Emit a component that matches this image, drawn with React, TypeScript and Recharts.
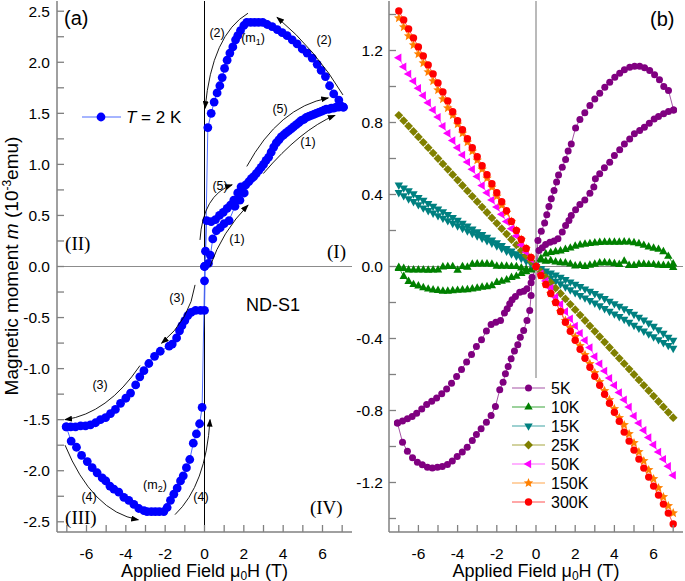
import { LineChart, Line, XAxis, YAxis, ReferenceLine } from 'recharts'

const SANS = '"Liberation Sans", Arial, Helvetica, sans-serif'
const SERIF = '"Liberation Serif", "Times New Roman", serif'
const AXIS_GREY = '#808080'

// layout of the two plot boxes (px)
const PLOT_TOP = 1
const PLOT_BOTTOM = 532
const A_LEFT = 57
const A_RIGHT = 352

const FIELD_DOMAIN: [number, number] = [-7.5, 7.5]
const A_DOMAIN: [number, number] = [-2.6, 2.6]
const B_DOMAIN: [number, number] = [-1.475, 1.475]

const fieldTicks = [-7, -6, -5, -4, -3, -2, -1, 0, 1, 2, 3, 4, 5, 6, 7]
const aMomentTicks = [-2.5, -2.25, -2, -1.75, -1.5, -1.25, -1, -0.75, -0.5, -0.25, 0, 0.25, 0.5, 0.75, 1, 1.25, 1.5, 1.75, 2, 2.25, 2.5]
const bMomentTicks = [-1.4, -1.2, -1, -0.8, -0.6, -0.4, -0.2, 0, 0.2, 0.4, 0.6, 0.8, 1, 1.2, 1.4]

// ---- panel (a): T = 2 K, [field (T), moment (1e-3 emu)] in measuring order
const virginSweep = [
  [0, 0], [0.2, 0.03], [0.3, 0.11], [0.42, 0.27], [0.6, 0.35], [0.8, 0.38], [1.0, 0.42], [1.25, 0.45],
  [1.55, 0.59], [1.8, 0.65], [2.02, 0.72], [2.25, 0.83], [2.5, 0.88], [2.76, 0.94], [3.0, 1.0], [3.26, 1.07],
  [3.52, 1.17], [3.78, 1.24], [4.03, 1.29], [4.29, 1.33], [4.54, 1.37], [4.8, 1.41], [5.05, 1.44], [5.3, 1.47],
  [5.56, 1.49], [5.81, 1.51], [6.07, 1.53], [6.32, 1.54], [6.57, 1.55], [6.83, 1.56], [7.06, 1.56],
]
const descendingSweep = [
  [7.06, 1.56], [6.83, 1.63], [6.57, 1.69], [6.36, 1.77], [6.15, 1.86], [5.93, 1.92], [5.73, 1.98], [5.48, 2.04],
  [5.22, 2.09], [4.97, 2.13], [4.71, 2.18], [4.46, 2.22], [4.2, 2.26], [3.95, 2.29], [3.7, 2.32], [3.44, 2.35],
  [3.19, 2.37], [2.96, 2.39], [2.75, 2.39], [2.55, 2.39], [2.35, 2.39], [2.15, 2.39], [2.0, 2.36], [1.83, 2.31],
  [1.69, 2.26], [1.58, 2.22], [1.44, 2.15], [1.29, 2.09], [1.15, 2.02], [1.02, 1.94], [0.9, 1.85], [0.78, 1.77],
  [0.64, 1.7], [0.49, 1.61], [0.34, 1.5], [0.17, 1.36],
]
const negativeSweep = [
  [0, -0.43], [-0.2, -0.43], [-0.45, -0.43], [-0.68, -0.45], [-0.85, -0.48], [-1.0, -0.53], [-1.15, -0.58],
  [-1.27, -0.63], [-1.42, -0.7], [-1.64, -0.76], [-1.8, -0.78], [-2.25, -0.83], [-2.54, -0.88], [-2.83, -0.95],
  [-3.08, -1.02], [-3.29, -1.08], [-3.5, -1.16], [-3.76, -1.24], [-4.0, -1.29], [-4.27, -1.34], [-4.53, -1.4],
  [-4.78, -1.44], [-5.03, -1.48], [-5.29, -1.5], [-5.54, -1.53], [-5.8, -1.55], [-6.05, -1.56], [-6.3, -1.56],
  [-6.56, -1.57], [-6.8, -1.57], [-7.03, -1.57],
]
const returnSweep = [
  [-7.03, -1.57], [-6.78, -1.71], [-6.51, -1.77], [-6.25, -1.85], [-5.96, -1.91], [-5.71, -1.97], [-5.46, -2.02],
  [-5.2, -2.07], [-5.02, -2.1], [-4.81, -2.15], [-4.61, -2.18], [-4.36, -2.21], [-4.1, -2.26], [-3.85, -2.29],
  [-3.59, -2.33], [-3.34, -2.37], [-3.08, -2.39], [-2.92, -2.4], [-2.7, -2.4], [-2.5, -2.4], [-2.3, -2.4],
  [-2.07, -2.4], [-1.9, -2.36], [-1.73, -2.29], [-1.56, -2.23], [-1.39, -2.17], [-1.22, -2.1], [-1.08, -2.05],
  [-0.92, -1.97], [-0.75, -1.89], [-0.57, -1.73], [-0.41, -1.64], [-0.25, -1.54], [-0.12, -1.38],
]
const secondSweep = [
  [0, -0.14], [0, 0], [0.05, 0.15], [0.11, 0.45], [0.34, 0.44], [0.56, 0.46], [0.76, 0.5], [0.95, 0.53],
  [1.15, 0.57], [1.32, 0.6], [1.49, 0.65], [1.69, 0.72], [1.86, 0.78], [2.1, 0.8], [2.38, 0.86], [2.63, 0.91],
  [2.88, 0.97], [3.13, 1.04], [3.39, 1.12], [3.65, 1.21], [3.9, 1.27], [4.16, 1.31], [4.42, 1.35], [4.67, 1.39],
  [4.93, 1.43], [5.18, 1.46], [5.43, 1.48], [5.68, 1.5], [5.94, 1.52], [6.19, 1.54], [6.45, 1.55], [6.7, 1.56],
  [6.95, 1.57],
]

// ---- panel (b): moment (1e-3 emu) vs field for several temperatures
const fieldGrid = [
  -7, -6.75, -6.5, -6.25, -6, -5.75, -5.5, -5.25, -5, -4.75, -4.5, -4.25, -4, -3.75, -3.5, -3.25, -3, -2.75, -2.5,
  -2.25, -2, -1.75, -1.5, -1.25, -1, -0.75, -0.5, -0.25, 0, 0.25, 0.5, 0.75, 1, 1.25, 1.5, 1.75, 2, 2.25, 2.5,
  2.75, 3, 3.25, 3.5, 3.75, 4, 4.25, 4.5, 4.75, 5, 5.25, 5.5, 5.75, 6, 6.25, 6.5, 6.75, 7,
]

const fiveKUpperRight = [
  [0, 0], [0.1, 0.144], [0.27, 0.196], [0.44, 0.241], [0.55, 0.287], [0.66, 0.333], [0.78, 0.376], [0.92, 0.422],
  [1.05, 0.469], [1.15, 0.508], [1.34, 0.552], [1.51, 0.594], [1.64, 0.641], [1.8, 0.681], [2.02, 0.77],
  [2.24, 0.817], [2.49, 0.854], [2.75, 0.894], [3.0, 0.931], [3.25, 0.963], [3.51, 0.996], [3.76, 1.024],
  [4.02, 1.052], [4.27, 1.074], [4.51, 1.093], [4.78, 1.107], [5.03, 1.113], [5.29, 1.113], [5.54, 1.104],
  [5.8, 1.089], [6.05, 1.065], [6.3, 1.037], [6.52, 1.0], [6.76, 0.978], [7.02, 0.87],
]
const fiveKLowerRight = [
  [0, 0], [0.15, 0.089], [0.32, 0.104], [0.49, 0.122], [0.71, 0.135], [0.92, 0.141], [1.12, 0.154], [1.34, 0.191],
  [1.51, 0.228], [1.68, 0.256], [1.8, 0.283], [2.02, 0.315], [2.24, 0.344], [2.49, 0.37], [2.75, 0.407],
  [2.95, 0.441], [3.03, 0.487], [3.25, 0.515], [3.49, 0.548], [3.76, 0.579], [4.0, 0.617], [4.27, 0.648],
  [4.51, 0.681], [4.78, 0.709], [5.02, 0.737], [5.29, 0.756], [5.53, 0.774], [5.78, 0.796], [6.03, 0.82],
  [6.25, 0.833], [6.51, 0.848], [6.76, 0.861], [7.02, 0.87],
]
const fiveKLowerLeft = [
  [-7.07, -0.869], [-6.81, -0.976], [-6.56, -1.026], [-6.3, -1.063], [-6.05, -1.087], [-5.8, -1.102],
  [-5.54, -1.115], [-5.29, -1.119], [-5.03, -1.115], [-4.78, -1.111], [-4.52, -1.1], [-4.27, -1.081],
  [-4.02, -1.056], [-3.76, -1.031], [-3.51, -1.004], [-3.25, -0.967], [-3.04, -0.933], [-2.8, -0.902],
  [-2.53, -0.865], [-2.29, -0.828], [-2.07, -0.778], [-1.85, -0.685], [-1.68, -0.643], [-1.56, -0.596],
  [-1.42, -0.556], [-1.27, -0.513], [-1.1, -0.47], [-0.93, -0.435], [-0.8, -0.393], [-0.63, -0.356],
  [-0.46, -0.3], [-0.32, -0.244], [-0.25, -0.161], [-0.2, -0.06], [0, 0],
]
const fiveKUpperLeft = [
  [-7.07, -0.869], [-6.81, -0.859], [-6.56, -0.846], [-6.32, -0.833], [-6.09, -0.815], [-5.83, -0.791],
  [-5.58, -0.767], [-5.32, -0.748], [-5.07, -0.73], [-4.81, -0.707], [-4.56, -0.68], [-4.31, -0.648],
  [-4.05, -0.611], [-3.8, -0.572], [-3.54, -0.531], [-3.29, -0.489], [-3.04, -0.444], [-2.78, -0.407],
  [-2.53, -0.359], [-2.29, -0.322], [-2.05, -0.31], [-1.81, -0.3], [-1.61, -0.259], [-1.47, -0.235],
  [-1.34, -0.207], [-1.22, -0.185], [-1.05, -0.167], [-0.83, -0.143], [-0.63, -0.137], [-0.46, -0.124],
  [-0.25, -0.09], [0, 0],
]

const m10KFlat = [
  -0.01, -0.01, -0.019, -0.019, -0.019, -0.019, -0.02, -0.019, -0.019, -0.002, 0, 0, -0.02, 0, -0.003, 0.013,
  0.015, 0.015, 0.015, 0.013, 0.002, 0.002, 0.002, 0, 0, -0.008, -0.015, -0.019, 0,
  0.037, 0.03, 0.033, 0.026, 0.022, 0.02, 0.014, 0.004, 0.006, 0.001, 0.008, 0.013, 0.02, 0.022, 0.02, 0.016,
  0.012, 0.03, 0.006, 0.006, 0.013, 0.013, 0.011, 0.011, 0.008, 0.006, 0.006, -0.005,
]
const m10KHump = [
  -0.005, -0.055, -0.083, -0.1, -0.108, -0.117, -0.125, -0.13, -0.133, -0.137, -0.137, -0.134, -0.132, -0.13,
  -0.128, -0.124, -0.12, -0.115, -0.112, -0.106, -0.088, -0.082, -0.074, -0.06, -0.054, -0.038, -0.028, -0.015, 0,
  0.045, 0.07, 0.078, 0.083, 0.087, 0.095, 0.103, 0.113, 0.12, 0.124, 0.128, 0.131, 0.134, 0.135, 0.135, 0.135,
  0.135, 0.137, 0.136, 0.133, 0.127, 0.118, 0.109, 0.102, 0.096, 0.083, 0.057, 0.015,
]
const m15KOuter = [
  0.452, 0.436, 0.42, 0.403, 0.383, 0.367, 0.35, 0.334, 0.319, 0.304, 0.288, 0.272, 0.256, 0.24, 0.224, 0.208,
  0.192, 0.177, 0.162, 0.147, 0.132, 0.116, 0.1, 0.085, 0.07, 0.055, 0.04, 0.022, 0,
  -0.02, -0.045, -0.065, -0.082, -0.097, -0.113, -0.13, -0.146, -0.161, -0.175, -0.19, -0.204, -0.219, -0.234,
  -0.249, -0.264, -0.279, -0.294, -0.31, -0.327, -0.343, -0.359, -0.375, -0.391, -0.407, -0.423, -0.439, -0.455,
]
const m15KInner = [
  0.41, 0.393, 0.376, 0.36, 0.343, 0.325, 0.31, 0.296, 0.282, 0.268, 0.254, 0.24, 0.226, 0.212, 0.198, 0.184,
  0.17, 0.157, 0.143, 0.13, 0.115, 0.1, 0.085, 0.07, 0.058, 0.045, 0.03, 0.015, 0,
  -0.012, -0.025, -0.037, -0.048, -0.06, -0.073, -0.086, -0.099, -0.112, -0.125, -0.138, -0.151, -0.165, -0.179,
  -0.193, -0.207, -0.221, -0.235, -0.25, -0.266, -0.282, -0.298, -0.315, -0.333, -0.352, -0.372, -0.393, -0.41,
]
const m25K = [
  0.84, 0.81, 0.78, 0.75, 0.72, 0.69, 0.66, 0.63, 0.6, 0.57, 0.54, 0.51, 0.48, 0.45, 0.42, 0.39, 0.36, 0.33, 0.3,
  0.27, 0.24, 0.21, 0.18, 0.15, 0.12, 0.09, 0.06, 0.03, 0,
  -0.03, -0.06, -0.09, -0.12, -0.15, -0.18, -0.21, -0.24, -0.27, -0.3, -0.33, -0.36, -0.39, -0.42, -0.45, -0.48,
  -0.51, -0.54, -0.57, -0.6, -0.63, -0.66, -0.69, -0.72, -0.75, -0.78, -0.81, -0.84,
]
const m50K = [
  1.16, 1.11, 1.07, 1.03, 0.99, 0.95, 0.91, 0.87, 0.83, 0.78, 0.74, 0.7, 0.66, 0.62, 0.58, 0.54, 0.5, 0.45, 0.41,
  0.37, 0.33, 0.29, 0.25, 0.21, 0.17, 0.12, 0.08, 0.04, 0,
  -0.04, -0.08, -0.12, -0.17, -0.21, -0.25, -0.29, -0.33, -0.37, -0.41, -0.45, -0.5, -0.54, -0.58, -0.62, -0.66,
  -0.7, -0.74, -0.78, -0.83, -0.87, -0.91, -0.95, -0.99, -1.03, -1.07, -1.11, -1.16,
]
const m150K = [
  1.38, 1.33, 1.28, 1.23, 1.18, 1.13, 1.08, 1.03, 0.98, 0.93, 0.88, 0.84, 0.79, 0.74, 0.69, 0.64, 0.59, 0.54, 0.49,
  0.44, 0.39, 0.34, 0.3, 0.25, 0.2, 0.15, 0.1, 0.05, 0,
  -0.05, -0.1, -0.15, -0.2, -0.25, -0.3, -0.34, -0.39, -0.44, -0.49, -0.54, -0.59, -0.64, -0.69, -0.74, -0.79,
  -0.84, -0.88, -0.93, -0.98, -1.03, -1.08, -1.13, -1.18, -1.23, -1.28, -1.33, -1.37,
]
const m300K = [
  1.42, 1.37, 1.32, 1.27, 1.22, 1.17, 1.12, 1.07, 1.02, 0.97, 0.92, 0.86, 0.81, 0.76, 0.71, 0.66, 0.61, 0.56, 0.51,
  0.46, 0.41, 0.36, 0.31, 0.25, 0.2, 0.15, 0.1, 0.05, 0,
  -0.05, -0.1, -0.15, -0.2, -0.25, -0.31, -0.36, -0.41, -0.46, -0.51, -0.56, -0.61, -0.66, -0.71, -0.76, -0.81,
  -0.86, -0.92, -0.97, -1.02, -1.07, -1.12, -1.17, -1.22, -1.27, -1.32, -1.37, -1.43,
]

type P = { h: number; m: number }
const pairs = (rows: number[][]): P[] => rows.map(([h, m]) => ({ h, m }))
const onGrid = (ms: number[]): P[] => fieldGrid.map((h, i) => ({ h, m: ms[i] }))

const loopA = pairs([...virginSweep, ...descendingSweep, ...negativeSweep, ...returnSweep, ...secondSweep])

type Kind = 'circle' | 'up' | 'down' | 'left' | 'diamond' | 'star'
const seriesB: { name: string; kind: Kind; fill: string; line: string; size: number; branches: P[][] }[] = [
  { name: '5K', kind: 'circle', fill: '#800080', line: '#a555a5', size: 3.5,
    branches: [fiveKUpperRight, fiveKLowerRight, fiveKLowerLeft, fiveKUpperLeft].map(pairs) },
  { name: '10K', kind: 'up', fill: '#008000', line: '#3aa53a', size: 4.2, branches: [onGrid(m10KFlat), onGrid(m10KHump)] },
  { name: '15K', kind: 'down', fill: '#008080', line: '#3fa3a3', size: 4.2, branches: [onGrid(m15KOuter), onGrid(m15KInner)] },
  { name: '25K', kind: 'diamond', fill: '#808000', line: '#a5a540', size: 4.4, branches: [onGrid(m25K)] },
  { name: '50K', kind: 'left', fill: '#ff00ff', line: '#ff66ff', size: 4.2, branches: [onGrid(m50K)] },
  { name: '150K', kind: 'star', fill: '#ff8000', line: '#ffa64d', size: 5, branches: [onGrid(m150K)] },
  { name: '300K', kind: 'circle', fill: '#ff0000', line: '#ff5050', size: 3.7, branches: [onGrid(m300K)] },
]

// annotations of panel (a), in data units
const arrowsA = [
  { s: [2.21, 2.48], c: [0.38, 2.27], e: [0.03, 1.55] },
  { s: [7.04, 1.68], c: [5.67, 2.12], e: [3.69, 2.44] },
  { s: [2.15, 0.98], c: [3.79, 1.56], e: [6.29, 1.65] },
  { s: [2.99, 0.91], c: [4.9, 1.34], e: [6.63, 1.48] },
  { s: [-0.23, 0.26], c: [-0.08, 0.7], e: [1.4, 0.8] },
  { s: [0.28, 0.0], c: [0.89, 0.34], e: [2.21, 0.6] },
  { s: [-0.48, -0.18], c: [-0.74, -0.52], e: [-2.18, -0.75] },
  { s: [-3.28, -0.97], c: [-4.93, -1.44], e: [-7.09, -1.5] },
  { s: [-7.09, -1.75], c: [-5.7, -2.4], e: [-3.37, -2.48] },
  { s: [-1.5, -2.43], c: [0.08, -2.14], e: [0.28, -1.5] },
]
const stepLabels = [
  { t: '(2)', h: 0.64, m: 2.25 }, { t: '(2)', h: 6.08, m: 2.18 }, { t: '(5)', h: 3.84, m: 1.5 },
  { t: '(1)', h: 5.26, m: 1.18 }, { t: '(5)', h: 0.79, m: 0.75 }, { t: '(1)', h: 1.65, m: 0.23 },
  { t: '(3)', h: -1.4, m: -0.35 }, { t: '(3)', h: -5.31, m: -1.2 }, { t: '(4)', h: -5.87, m: -2.3 },
  { t: '(4)', h: -0.18, m: -2.3 },
]
const quadrantLabels = [
  { t: '(I)', h: 6.23, m: 0.08 }, { t: '(II)', h: -7.09, m: 0.16 },
  { t: '(III)', h: -7.09, m: -2.52 }, { t: '(IV)', h: 5.36, m: -2.42 },
]

const ax = (h: number) => A_LEFT + ((h - FIELD_DOMAIN[0]) / (FIELD_DOMAIN[1] - FIELD_DOMAIN[0])) * (A_RIGHT - A_LEFT)
const ay = (m: number) => PLOT_TOP + ((A_DOMAIN[1] - m) / (A_DOMAIN[1] - A_DOMAIN[0])) * (PLOT_BOTTOM - PLOT_TOP)

function starPoints(cx: number, cy: number, R: number) {
  const pts: string[] = []
  for (let i = 0; i < 10; i++) {
    const r = i % 2 === 0 ? R : R * 0.45
    const a = -Math.PI / 2 + (i * Math.PI) / 5
    pts.push(`${cx + r * Math.cos(a)},${cy + r * Math.sin(a)}`)
  }
  return pts.join(' ')
}

function Marker({ kind, cx, cy, fill, s }: { kind: Kind; cx: number; cy: number; fill: string; s: number }) {
  if (cx == null || cy == null) return null
  switch (kind) {
    case 'up':
      return <polygon points={`${cx},${cy - s * 1.15} ${cx + s},${cy + s * 0.62} ${cx - s},${cy + s * 0.62}`} fill={fill} />
    case 'down':
      return <polygon points={`${cx},${cy + s * 1.15} ${cx + s},${cy - s * 0.62} ${cx - s},${cy - s * 0.62}`} fill={fill} />
    case 'left':
      return <polygon points={`${cx - s * 1.15},${cy} ${cx + s * 0.62},${cy - s} ${cx + s * 0.62},${cy + s}`} fill={fill} />
    case 'diamond':
      return <polygon points={`${cx},${cy - s} ${cx + s},${cy} ${cx},${cy + s} ${cx - s},${cy}`} fill={fill} />
    case 'star':
      return <polygon points={starPoints(cx, cy, s)} fill={fill} />
    default:
      return <circle cx={cx} cy={cy} r={s} fill={fill} />
  }
}

const TICK_LEN = 7
const tickFont = { fontFamily: SANS, fontSize: 15.5, fill: '#000' }
const frame = { stroke: AXIS_GREY, strokeWidth: 1.5 }

const bottomTick = (p: any) => {
  const v = p.payload.value
  return (
    <g>
      <line x1={p.x} y1={p.y} x2={p.x} y2={p.y - TICK_LEN} stroke={AXIS_GREY} strokeWidth={1.3} />
      {v % 2 === 0 && <text x={p.x} y={p.y + 27} textAnchor="middle" {...tickFont}>{v}</text>}
    </g>
  )
}
const topTick = (p: any) => (
  <line x1={p.x} y1={p.y} x2={p.x} y2={p.y + TICK_LEN} stroke={AXIS_GREY} strokeWidth={1.3} />
)
const rightTick = (p: any) => (
  <line x1={p.x} y1={p.y} x2={p.x - TICK_LEN} y2={p.y} stroke={AXIS_GREY} strokeWidth={1.3} />
)
const leftTick = (isMajor: (v: number) => boolean, gap: number) => (p: any) => {
  const v = p.payload.value
  return (
    <g>
      <line x1={p.x} y1={p.y} x2={p.x + TICK_LEN} y2={p.y} stroke={AXIS_GREY} strokeWidth={1.3} />
      {isMajor(v) && <text x={p.x - gap} y={p.y + 5.5} textAnchor="end" {...tickFont}>{v.toFixed(1)}</text>}
    </g>
  )
}
const leftTickA = leftTick((v) => Math.abs(Math.round(v * 100)) % 50 === 0, 7)
const leftTickB = leftTick((v) => Math.abs(Math.round(v * 10)) % 4 === 0, 6)

const axisCommon = { type: 'number' as const, tickSize: 0, tickMargin: 0, tickLine: false, interval: 0 as const, allowDataOverflow: true }

function FieldTitle({ x }: { x: number }) {
  return (
    <text x={x} y={577} textAnchor="middle" fontSize={18}>
      Applied Field μ<tspan fontSize={12} dy={2.5}>0</tspan><tspan dy={-2.5}>H (T)</tspan>
    </text>
  )
}

export default function App() {
  return (
    <div style={{ position: 'absolute', left: 0, top: 0, width: 685, height: 581, background: '#fff' }}>
      <div style={{ position: 'absolute', left: 0, top: 0 }}>
        <LineChart width={360} height={581} margin={{ top: PLOT_TOP, right: 8, bottom: 19, left: 0 }}>
          <XAxis xAxisId="x" dataKey="h" {...axisCommon} domain={FIELD_DOMAIN} ticks={fieldTicks} tick={bottomTick} axisLine={frame} height={30} />
          <XAxis xAxisId="xt" orientation="top" {...axisCommon} domain={FIELD_DOMAIN} ticks={fieldTicks} tick={topTick} axisLine={frame} height={0} />
          <YAxis yAxisId="y" dataKey="m" {...axisCommon} domain={A_DOMAIN} ticks={aMomentTicks} tick={leftTickA} axisLine={frame} width={57} />
          <YAxis yAxisId="yr" orientation="right" {...axisCommon} domain={A_DOMAIN} ticks={aMomentTicks} tick={rightTick} axisLine={frame} width={0} />
          <ReferenceLine xAxisId="x" yAxisId="y" y={0} stroke="#8c8c8c" strokeWidth={1.2} />
          <ReferenceLine xAxisId="x" yAxisId="y" x={0} stroke="#000" strokeWidth={1} />
          <Line
            xAxisId="x"
            yAxisId="y"
            data={loopA}
            dataKey="m"
            stroke="#4d6bff"
            strokeWidth={1}
            dot={(p: any) => <Marker key={`a${p.index}`} kind="circle" cx={p.cx} cy={p.cy} fill="#0000ff" s={4.4} />}
            activeDot={false}
            isAnimationActive={false}
          />
        </LineChart>
      </div>
      <div style={{ position: 'absolute', left: 340, top: 0 }}>
        <LineChart width={345} height={581} margin={{ top: PLOT_TOP, right: 2, bottom: 19, left: 0 }}>
          <XAxis xAxisId="x" dataKey="h" {...axisCommon} domain={FIELD_DOMAIN} ticks={fieldTicks} tick={bottomTick} axisLine={frame} height={30} />
          <XAxis xAxisId="xt" orientation="top" {...axisCommon} domain={FIELD_DOMAIN} ticks={fieldTicks} tick={topTick} axisLine={frame} height={0} />
          <YAxis yAxisId="y" dataKey="m" {...axisCommon} domain={B_DOMAIN} ticks={bMomentTicks} tick={leftTickB} axisLine={frame} width={49} />
          <YAxis yAxisId="yr" orientation="right" {...axisCommon} domain={B_DOMAIN} ticks={bMomentTicks} tick={rightTick} axisLine={frame} width={0} />
          <ReferenceLine xAxisId="x" yAxisId="y" y={0} stroke="#8c8c8c" strokeWidth={1.2} />
          <ReferenceLine xAxisId="x" yAxisId="y" segment={[{ x: 0, y: 1.475 }, { x: 0, y: -0.62 }]} stroke="#8c8c8c" strokeWidth={1.2} />
          {seriesB.flatMap((s) =>
            s.branches.map((b, bi) => (
              <Line
                key={`${s.name}-${bi}`}
                xAxisId="x"
                yAxisId="y"
                data={b}
                dataKey="m"
                stroke={s.line}
                strokeWidth={1}
                dot={(p: any) => <Marker key={`${s.name}${bi}-${p.index}`} kind={s.kind} cx={p.cx} cy={p.cy} fill={s.fill} s={s.size} />}
                activeDot={false}
                isAnimationActive={false}
              />
            ))
          )}
        </LineChart>
      </div>
      <svg width={685} height={581} style={{ position: 'absolute', left: 0, top: 0, pointerEvents: 'none' }}>
        <defs>
          <marker id="arrowHead" markerWidth={8} markerHeight={6} refX={7} refY={3} orient="auto" markerUnits="userSpaceOnUse">
            <path d="M0,0 L8,3 L0,6 z" fill="#000" />
          </marker>
        </defs>
        {arrowsA.map((a, i) => (
          <path
            key={i}
            d={`M${ax(a.s[0])},${ay(a.s[1])} Q${ax(a.c[0])},${ay(a.c[1])} ${ax(a.e[0])},${ay(a.e[1])}`}
            fill="none"
            stroke="#000"
            strokeWidth={0.9}
            markerEnd="url(#arrowHead)"
          />
        ))}
        <g fontFamily={SANS} fontSize={12.5} fill="#000">
          {stepLabels.map((l, i) => (
            <text key={i} x={ax(l.h)} y={ay(l.m)} textAnchor="middle">{l.t}</text>
          ))}
          <text x={ax(2.47)} y={ay(2.2)} textAnchor="middle">(m<tspan fontSize={9} dy={3}>1</tspan><tspan dy={-3}>)</tspan></text>
          <text x={ax(-2.52)} y={ay(-2.18)} textAnchor="middle">(m<tspan fontSize={9} dy={3}>2</tspan><tspan dy={-3}>)</tspan></text>
        </g>
        <g fontFamily={SERIF} fontSize={19} fill="#000">
          {quadrantLabels.map((l, i) => (
            <text key={i} x={ax(l.h)} y={ay(l.m)}>{l.t}</text>
          ))}
        </g>
        <g fontFamily={SANS} fill="#000">
          <text x={64} y={25} fontSize={20}>(a)</text>
          <text x={650} y={26} fontSize={20}>(b)</text>
          <text x={246} y={311} fontSize={18}>ND-S1</text>
          <line x1={82} y1={117} x2={121} y2={117} stroke="#4d6bff" strokeWidth={1} />
          <circle cx={101} cy={117} r={4.4} fill="#0000ff" />
          <text x={126} y={123} fontSize={17}><tspan fontStyle="italic">T</tspan> = 2 K</text>
          {seriesB.map((s, i) => {
            const y = 388 + i * 19
            return (
              <g key={s.name}>
                <line x1={512} y1={y} x2={545} y2={y} stroke={s.line} strokeWidth={1.2} />
                <Marker kind={s.kind} cx={528.5} cy={y} fill={s.fill} s={s.size} />
                <text x={551} y={y + 6} fontSize={16}>{s.name}</text>
              </g>
            )
          })}
          <text transform="translate(18, 266) rotate(-90)" textAnchor="middle" fontSize={19}>
            Magnetic moment <tspan fontStyle="italic">m</tspan> (10<tspan fontSize={12} dy={-7}>-3</tspan><tspan dy={7}>emu)</tspan>
          </text>
          <FieldTitle x={204.5} />
          <FieldTitle x={536} />
        </g>
      </svg>
    </div>
  )
}
